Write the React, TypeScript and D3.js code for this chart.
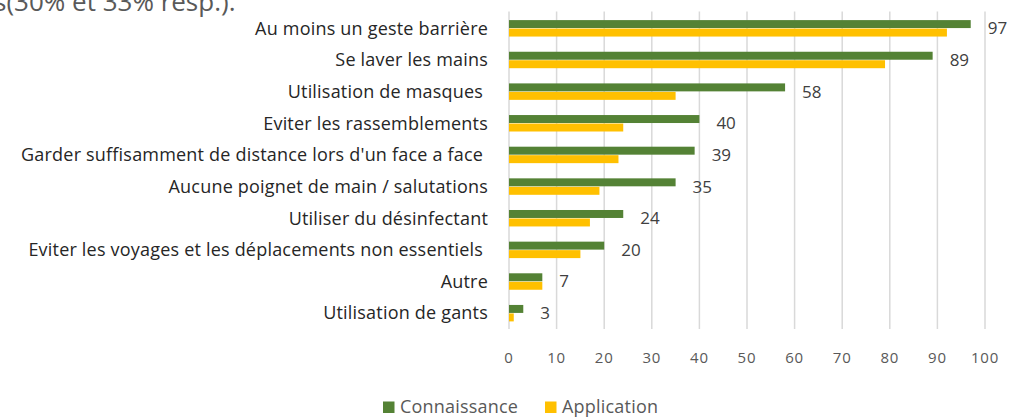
import React from 'react';
import * as d3 from 'd3';

const categories = [
  'Au moins un geste barrière',
  'Se laver les mains',
  'Utilisation de masques ',
  'Eviter les rassemblements',
  "Garder suffisamment de distance lors d'un face a face ",
  'Aucune poignet de main / salutations',
  'Utiliser du désinfectant',
  'Eviter les voyages et les déplacements non essentiels ',
  'Autre',
  'Utilisation de gants',
];
const connaissance = [97, 89, 58, 40, 39, 35, 24, 20, 7, 3];
const application = [92, 79, 35, 24, 23, 19, 17, 15, 7, 1];
const seriesNames = ['Connaissance', 'Application'];
const seriesColors = ['#548235', '#FFC000'];
const xTicks = [0, 10, 20, 30, 40, 50, 60, 70, 80, 90, 100];

const FONT = "'Open Sans', sans-serif";

const App = () => {
  const width = 1020;
  const height = 419;
  const plotTop = 12.5;
  const plotBottom = 329;

  const x = d3.scaleLinear().domain([0, 100]).range([509, 985]);
  const y = d3.scaleBand<string>()
    .domain(categories)
    .range([plotTop, plotBottom])
    .paddingInner(0.48)
    .paddingOuter(0.24);
  const ySub = d3.scaleBand<string>()
    .domain(seriesNames)
    .range([0, y.bandwidth()])
    .paddingInner(0.06);

  const values = [connaissance, application];

  return (
    <svg width={width} height={height} style={{display: 'block', position: 'absolute', left: 0, top: 0}}>
      <rect width={width} height={height} fill="#fff" />
      {/* leftover line of text from the page above */}
      <text x={-6} y={11} fontFamily={FONT} fontSize={26} fill="#595959">s(30% et 33% resp.).</text>

      {/* gridlines */}
      {xTicks.map(t => (
        <line key={t} x1={x(t)} x2={x(t)} y1={plotTop - 1} y2={plotBottom} stroke="#d9d9d9" strokeWidth={1.5} />
      ))}

      {/* bars */}
      {categories.map((c, i) => (
        <g key={c} transform={`translate(0, ${y(c)})`}>
          {seriesNames.map((s, j) => (
            <rect key={s}
              x={x(0)}
              y={ySub(s)}
              width={x(values[j][i]) - x(0)}
              height={ySub.bandwidth()}
              fill={seriesColors[j]} />
          ))}
          <text x={x(connaissance[i]) + 17} y={y.bandwidth() / 2} dy="0.35em"
            fontFamily={FONT} fontSize={17} fill="#404040">{connaissance[i]}</text>
        </g>
      ))}

      {/* category labels */}
      {categories.map(c => (
        <text key={c} x={488} y={(y(c) as number) + y.bandwidth() / 2} dy="0.35em"
          textAnchor="end" fontFamily={FONT} fontSize={18} letterSpacing={0.2} fill="#262626"
          style={{whiteSpace: 'pre'}}>{c}</text>
      ))}

      {/* x axis labels */}
      {xTicks.map(t => (
        <text key={t} x={x(t)} y={358} dy="0.35em" textAnchor="middle"
          fontFamily={FONT} fontSize={15} letterSpacing={0.8} fill="#595959">{t}</text>
      ))}

      {/* legend */}
      <rect x={383} y={401.5} width={11.5} height={11.5} fill={seriesColors[0]} />
      <text x={400} y={407} dy="0.35em" fontFamily={FONT} fontSize={18} letterSpacing={0.2} fill="#595959">{seriesNames[0]}</text>
      <rect x={545} y={401.5} width={11.5} height={11.5} fill={seriesColors[1]} />
      <text x={562} y={407} dy="0.35em" fontFamily={FONT} fontSize={18} letterSpacing={0.2} fill="#595959">{seriesNames[1]}</text>
    </svg>
  );
};

export default App;
